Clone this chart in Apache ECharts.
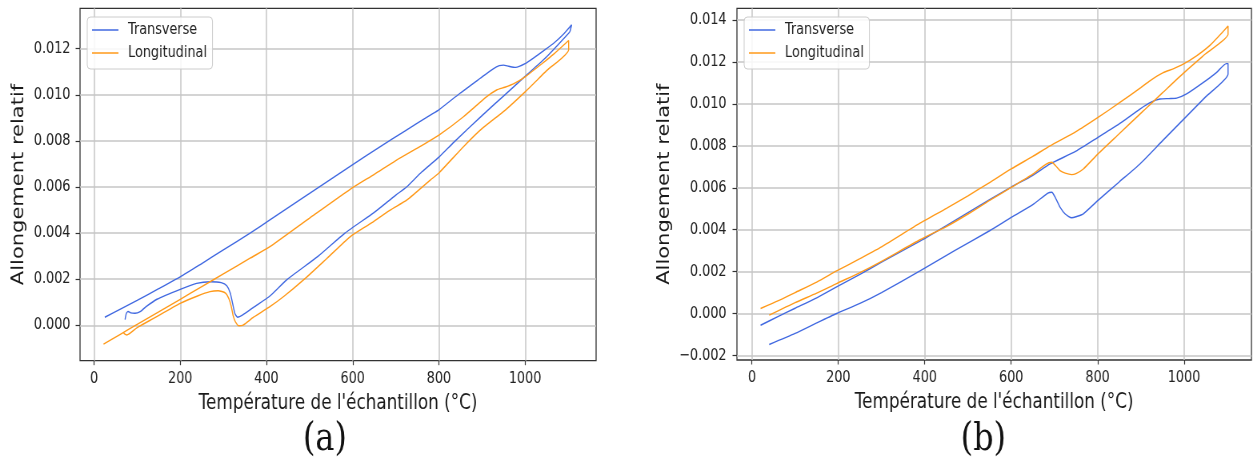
<!DOCTYPE html>
<html>
<head>
<meta charset="utf-8">
<script src="https://cdn.jsdelivr.net/npm/echarts@6/dist/echarts.min.js"></script>
<style>
  html, body { margin: 0; padding: 0; background: #ffffff; }
  #wrap { width: 1253px; height: 462px; overflow: hidden; position: relative; background: #fff; }
  #chart { width: 1566px; height: 462px; transform: scaleX(0.80013); transform-origin: 0 0; }
</style>
</head>
<body>
<div id="wrap"><div id="chart"></div></div>
<script>
// ---------------- DATA ----------------
const seriesNames = ['Transverse', 'Longitudinal'];
const captions = ['(a)', '(b)'];
const xTitle = "Température de l'échantillon (°C)";
const yTitle = 'Allongement relatif';
const xTicks = [0, 200, 400, 600, 800, 1000];
const yTicksA = [0, 0.002, 0.004, 0.006, 0.008, 0.010, 0.012];
const yTicksB = [-0.002, 0, 0.002, 0.004, 0.006, 0.008, 0.010, 0.012, 0.014];

// Panel (a) - [temperature °C, relative elongation]
const aTransverse = [
  [25, 0.00035], [60, 0.00069], [100, 0.00108], [150, 0.00159], [200, 0.00210],
  [250, 0.00268], [300, 0.00327], [362, 0.00400], [408, 0.00457], [500, 0.00572],
  [594, 0.00690], [664, 0.00775], [720, 0.00842], [780, 0.00912], [800, 0.00935],
  [849, 0.01007], [896, 0.01072], [926, 0.01113], [940, 0.01127], [950, 0.01129],
  [962, 0.01124], [978, 0.01119], [1000, 0.01135], [1020, 0.01160], [1039, 0.01186],
  [1067, 0.01225], [1090, 0.01265], [1108, 0.01304], [1104, 0.01275], [1100, 0.01265],
  [1050, 0.01165], [1000, 0.01080], [953, 0.01000], [900, 0.00910], [835, 0.00795],
  [800, 0.00730], [760, 0.00665], [725, 0.00600], [700, 0.00565], [650, 0.00490],
  [582, 0.00400], [520, 0.00300], [447, 0.00197], [408, 0.00127], [370, 0.00078],
  [345, 0.00045], [333, 0.00035], [327, 0.00050], [322, 0.00090], [316, 0.00140],
  [308, 0.00172], [295, 0.00185], [270, 0.00189], [238, 0.00182], [200, 0.00156],
  [146, 0.00113], [120, 0.00080], [107, 0.00059], [95, 0.00052], [85, 0.00054],
  [79, 0.00060], [75, 0.00052], [72, 0.00025]
];
const aLongitudinal = [
  [22, -0.00082], [60, -0.00040], [100, 0.00004], [150, 0.00058], [200, 0.00113],
  [250, 0.00168], [300, 0.00223], [362, 0.00291], [408, 0.00341], [500, 0.00465],
  [594, 0.00590], [650, 0.00655], [700, 0.00715], [760, 0.00780], [800, 0.00825],
  [857, 0.00905], [911, 0.00992], [934, 0.01021], [953, 0.01033], [975, 0.01050],
  [1000, 0.01078], [1039, 0.01135], [1067, 0.01178], [1101, 0.01236], [1101, 0.01196],
  [1050, 0.01105], [1000, 0.01013], [954, 0.00934], [896, 0.00847], [857, 0.00775],
  [800, 0.00661], [780, 0.00630], [726, 0.00544], [687, 0.00500], [640, 0.00440],
  [594, 0.00384], [540, 0.00290], [486, 0.00197], [440, 0.00125], [408, 0.00081],
  [370, 0.00035], [346, 0.00001], [336, -0.00002], [328, 0.00015], [323, 0.00040],
  [318, 0.00085], [313, 0.00115], [305, 0.00140], [288, 0.00150], [269, 0.00146],
  [240, 0.00127], [200, 0.00095], [138, 0.00030], [100, -0.00010], [76, -0.00042],
  [70, -0.00036], [68, -0.00030]
];

// Panel (b)
const bTransverse = [
  [20, -0.00056], [60, -0.00015], [100, 0.00025], [150, 0.00075], [196, 0.00127],
  [250, 0.00187], [300, 0.00245], [389, 0.00346], [450, 0.00420], [500, 0.00482],
  [550, 0.00543], [600, 0.00603], [650, 0.00660], [690, 0.00714], [750, 0.00775],
  [801, 0.00841], [850, 0.00905], [898, 0.00976], [925, 0.01010], [944, 0.01024],
  [965, 0.01026], [983, 0.01028], [1006, 0.01048], [1045, 0.01103], [1075, 0.01150],
  [1098, 0.01193], [1102, 0.01193], [1102, 0.01143],
  [1050, 0.01034], [1000, 0.00929], [950, 0.00824], [898, 0.00714], [850, 0.00628],
  [801, 0.00540], [767, 0.00476], [750, 0.00462], [740, 0.00457], [725, 0.00475],
  [713, 0.00508], [703, 0.00550], [694, 0.00579], [685, 0.00575], [650, 0.00520],
  [601, 0.00460], [550, 0.00395], [470, 0.00301], [389, 0.00203], [300, 0.00100],
  [250, 0.00048], [196, 0.00000], [150, -0.00045], [100, -0.00095], [40, -0.00148]
];
const bLongitudinal = [
  [20, 0.00024], [60, 0.00060], [100, 0.00100], [150, 0.00150], [196, 0.00203],
  [250, 0.00262], [300, 0.00318], [389, 0.00431], [450, 0.00502], [500, 0.00562],
  [550, 0.00625], [600, 0.00690], [650, 0.00750], [690, 0.00800], [750, 0.00868],
  [801, 0.00936], [850, 0.01005], [900, 0.01078], [921, 0.01111], [952, 0.01150],
  [975, 0.01168], [998, 0.01190], [1029, 0.01230], [1060, 0.01280], [1090, 0.01345],
  [1102, 0.01373], [1102, 0.01333],
  [1050, 0.01240], [1000, 0.01150], [950, 0.01053], [910, 0.00975], [898, 0.00952],
  [850, 0.00858], [801, 0.00762], [767, 0.00690], [750, 0.00668], [740, 0.00663],
  [725, 0.00670], [713, 0.00682], [703, 0.00705], [694, 0.00722], [680, 0.00712],
  [650, 0.00665], [601, 0.00603], [550, 0.00540], [500, 0.00475], [450, 0.00415],
  [389, 0.00352], [300, 0.00249], [250, 0.00195], [196, 0.00143], [150, 0.00097],
  [100, 0.00052], [40, -0.00008]
];

// ---------------- STYLE ----------------
const BLUE = '#4169e1';
const ORANGE = '#ff9a1a';
const FONT = 'DejaVu Sans';
const GRIDLINE = { color: '#c6c6c6', width: 1.5 };

function yFmt(v) { return v.toFixed(3).replace('-', '\u2212'); }
function xFmt(v) { return String(Math.round(v)); }

function xAxisCfg(gridIndex, min, max) {
  return {
    gridIndex, type: 'value', min, max, splitNumber: 6, position: 'bottom',
    axisLine: { show: false, onZero: false },
    axisTick: { show: true, inside: false, length: 4.5, customValues: xTicks, lineStyle: { color: '#333', width: 1.2 } },
    axisLabel: { customValues: xTicks, margin: 10, fontSize: 16, color: '#222', fontFamily: FONT, formatter: xFmt },
    splitLine: { show: true, lineStyle: GRIDLINE },
    name: xTitle, nameLocation: 'middle', nameGap: 32,
    nameTextStyle: { fontSize: 21, color: '#1a1a1a', fontFamily: FONT }
  };
}
function yAxisCfg(gridIndex, min, max, ticks, margin, gap) {
  return {
    gridIndex, type: 'value', min, max, splitNumber: 8, position: 'left',
    axisLine: { show: false, onZero: false },
    axisTick: { show: true, inside: false, length: 5.5, customValues: ticks, lineStyle: { color: '#333', width: 1.2 } },
    axisLabel: { customValues: ticks, margin, fontSize: 16, color: '#222', fontFamily: FONT, formatter: yFmt },
    splitLine: { show: true, lineStyle: GRIDLINE },
    name: yTitle, nameLocation: 'middle', nameGap: gap,
    nameTextStyle: { fontSize: 21, color: '#1a1a1a', fontFamily: FONT }
  };
}
function legendCfg(left) {
  return {
    left, top: 17, orient: 'vertical',
    icon: 'rect', itemWidth: 33, itemHeight: 1.6, itemGap: 5,
    padding: [4, 7, 7, 6],
    backgroundColor: 'rgba(255,255,255,0.85)',
    borderColor: '#cccccc', borderWidth: 1, borderRadius: 4,
    textStyle: { fontSize: 16, color: '#222', lineHeight: 18, fontFamily: FONT, padding: [0, 0, 0, 7] },
    data: seriesNames
  };
}
function lineSeries(name, data, idx, color) {
  return {
    name, type: 'line', data, xAxisIndex: idx, yAxisIndex: idx,
    showSymbol: false, symbol: 'none', smooth: 0.2,
    lineStyle: { color, width: 1.4 }, itemStyle: { color },
    z: 5
  };
}

const chart = echarts.init(document.getElementById('chart'), null, { renderer: 'canvas' });
chart.setOption({
  animation: false,
  backgroundColor: '#ffffff',
  textStyle: { fontFamily: FONT },
  grid: [
    { left: 100, top: 8.3, width: 645, height: 352.4, show: true, borderColor: '#333333', borderWidth: 1.3, backgroundColor: 'transparent', containLabel: false },
    { left: 921, top: 8.3, width: 643, height: 351.7, show: true, borderColor: '#333333', borderWidth: 1.3, backgroundColor: 'transparent', containLabel: false }
  ],
  xAxis: [ xAxisCfg(0, -32.5, 1164.7), xAxisCfg(1, -34.7, 1156) ],
  yAxis: [
    yAxisCfg(0, -0.001536, 0.013755, yTicksA, 12, 66),
    yAxisCfg(1, -0.00222, 0.01457, yTicksB, 13, 80)
  ],
  legend: [ legendCfg(109), legendCfg(930) ],
  series: [
    lineSeries(seriesNames[0], aTransverse, 0, BLUE),
    lineSeries(seriesNames[1], aLongitudinal, 0, ORANGE),
    lineSeries(seriesNames[0], bTransverse, 1, BLUE),
    lineSeries(seriesNames[1], bLongitudinal, 1, ORANGE)
  ],
  graphic: [
    { type: 'text', x: 406, y: 440, style: { text: captions[0], fontSize: 40, fontFamily: 'DejaVu Serif', fill: '#111', align: 'center', verticalAlign: 'middle' } },
    { type: 'text', x: 1229, y: 440, style: { text: captions[1], fontSize: 40, fontFamily: 'DejaVu Serif', fill: '#111', align: 'center', verticalAlign: 'middle' } }
  ]
});
</script>
</body>
</html>
